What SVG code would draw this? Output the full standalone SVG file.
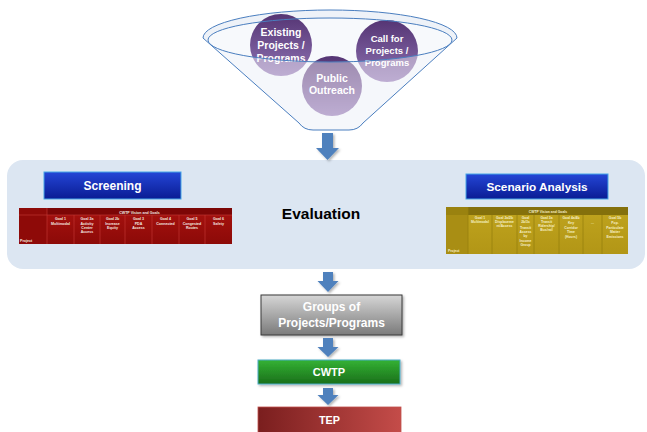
<svg xmlns="http://www.w3.org/2000/svg" width="647" height="432" viewBox="0 0 647 432">
  <defs>
    <linearGradient id="gPurple" x1="0" y1="0" x2="0" y2="1">
      <stop offset="0" stop-color="#553574"/>
      <stop offset="1" stop-color="#8e72b2"/>
    </linearGradient>
    <linearGradient id="gBlue" x1="0" y1="0" x2="0" y2="1">
      <stop offset="0" stop-color="#2446d6"/>
      <stop offset="1" stop-color="#0a1c94"/>
    </linearGradient>
    <linearGradient id="gGrey" x1="0" y1="0" x2="0" y2="1">
      <stop offset="0" stop-color="#d6d6d6"/>
      <stop offset="1" stop-color="#7a7a7a"/>
    </linearGradient>
    <linearGradient id="gGreen" x1="0" y1="0" x2="0" y2="1">
      <stop offset="0" stop-color="#34b234"/>
      <stop offset="1" stop-color="#1a6f1a"/>
    </linearGradient>
    <linearGradient id="gRed" x1="0" y1="0" x2="1" y2="0">
      <stop offset="0" stop-color="#7a1e1e"/>
      <stop offset="1" stop-color="#c44c49"/>
    </linearGradient>
    <linearGradient id="gTableRed" x1="0" y1="0" x2="0" y2="1">
      <stop offset="0" stop-color="#a8120f"/>
      <stop offset="1" stop-color="#8c0a08"/>
    </linearGradient>
    <linearGradient id="gTableGold" x1="0" y1="0" x2="0" y2="1">
      <stop offset="0" stop-color="#c0a41e"/>
      <stop offset="1" stop-color="#b29616"/>
    </linearGradient>
    <filter id="shadow" x="-20%" y="-20%" width="150%" height="160%">
      <feDropShadow dx="1.5" dy="1.5" stdDeviation="1" flood-color="#000" flood-opacity="0.3"/>
    </filter>
  </defs>
  <style>
    .lbl { font-family: "Liberation Sans", Arial, sans-serif; font-weight: bold; fill: #ffffff; text-anchor: middle; }
    .circ { stroke: none; fill: url(#gPurple); }
    .rim { fill: none; stroke: #4a7ebf; stroke-width: 1; }
    .arrow { fill: #4f81bd; filter: url(#shadow); }
    .tiny { font-family: "Liberation Sans", Arial, sans-serif; font-weight: bold; font-size: 3.6px; fill: #f4e8e0; text-anchor: middle; }
    .tinyg { font-family: "Liberation Sans", Arial, sans-serif; font-weight: bold; font-size: 3.4px; fill: #f6efc8; text-anchor: middle; }
    .sepR { stroke: #c63a36; stroke-width: 0.6; }
    .sepG { stroke: #98800e; stroke-width: 0.8; }
  </style>

  <!-- Funnel with the three input sources -->
  <g id="funnel">
    <path d="M203,38 A127,28 0 0 1 457,38 L363,123 Q358,130 349,130 L313,130 Q304,130 299,123 Z" fill="#eef2f8"/>
    <ellipse cx="330" cy="40" rx="122" ry="22" fill="#f7f9fc"/>
  </g>
  <g id="existing">
    <circle class="circ" cx="281" cy="45" r="31"/>
    <text class="lbl" font-size="10.5" x="281" y="36">Existing</text>
    <text class="lbl" font-size="10.5" x="281" y="49">Projects /</text>
    <text class="lbl" font-size="10.5" x="281" y="62">Programs</text>
  </g>
  <g id="call">
    <circle class="circ" cx="387" cy="51" r="31"/>
    <text class="lbl" font-size="9.5" x="387" y="42">Call for</text>
    <text class="lbl" font-size="9.5" x="387" y="54">Projects /</text>
    <text class="lbl" font-size="9.5" x="387" y="66">Programs</text>
  </g>
  <g id="outreach">
    <circle class="circ" cx="332" cy="86" r="30"/>
    <text class="lbl" font-size="10.5" x="332" y="82">Public</text>
    <text class="lbl" font-size="10.5" x="332" y="94">Outreach</text>
  </g>
  <g id="funnel-front">
    <path d="M203,38 L208,40 A122,22 0 0 0 452,40 L457,38 L363,123 Q358,130 349,130 L313,130 Q304,130 299,123 Z" fill="#ffffff" fill-opacity="0.42"/>
    <path class="rim" d="M203,38 A127,28 0 0 1 457,38"/>
    <ellipse class="rim" cx="330" cy="40" rx="122" ry="22"/>
    <path class="rim" d="M203,38 L299,123 Q304,130 313,130 L349,130 Q358,130 363,123 L457,38"/>
  </g>

  <!-- Evaluation panel -->
  <g id="evaluation">
    <rect x="7" y="160" width="638" height="109" rx="16" fill="#dce6f2"/>
    <text x="321" y="219" font-family="Liberation Sans, Arial, sans-serif" font-weight="bold" font-size="15.5" fill="#000" text-anchor="middle">Evaluation</text>
  </g>

  <g id="screening">
    <rect x="44" y="172" width="137" height="27" fill="url(#gBlue)" stroke="#46a6e6" stroke-width="1"/>
    <text class="lbl" font-size="12" x="112.5" y="190">Screening</text>
  </g>

  <g id="screening-table">
    <rect x="19" y="208" width="213" height="36" fill="url(#gTableRed)"/>
    <rect x="19" y="208" width="213" height="7" fill="#7c0606"/>
    <rect x="19" y="208" width="28" height="36" fill="#8e0a08"/>
    <g class="sepR">
      <line x1="19" y1="215" x2="232" y2="215"/>
      <line x1="47" y1="208" x2="47" y2="244"/>
      <line x1="74" y1="215" x2="74" y2="244"/>
      <line x1="100" y1="215" x2="100" y2="244"/>
      <line x1="125" y1="215" x2="125" y2="244"/>
      <line x1="152" y1="215" x2="152" y2="244"/>
      <line x1="179" y1="215" x2="179" y2="244"/>
      <line x1="205" y1="215" x2="205" y2="244"/>
    </g>
    <text class="tiny" x="139.5" y="213.5">CWTP Vision and Goals</text>
    <text class="tiny" x="60.5" y="219.5">Goal 1</text>
    <text class="tiny" x="60.5" y="224.5">Multimodal</text>
    <text class="tiny" x="87" y="219.5">Goal 2a</text>
    <text class="tiny" x="87" y="224.5">Activity</text>
    <text class="tiny" x="87" y="228.5">Center</text>
    <text class="tiny" x="87" y="232.5">Access</text>
    <text class="tiny" x="112.5" y="219.5">Goal 2b</text>
    <text class="tiny" x="112.5" y="224.5">Increase</text>
    <text class="tiny" x="112.5" y="228.5">Equity</text>
    <text class="tiny" x="138.5" y="219.5">Goal 3</text>
    <text class="tiny" x="138.5" y="224.5">PDA</text>
    <text class="tiny" x="138.5" y="228.5">Access</text>
    <text class="tiny" x="165.5" y="219.5">Goal 4</text>
    <text class="tiny" x="165.5" y="224.5">Connected</text>
    <text class="tiny" x="192" y="219.5">Goal 5</text>
    <text class="tiny" x="192" y="224.5">Congested</text>
    <text class="tiny" x="192" y="228.5">Routes</text>
    <text class="tiny" x="218.5" y="219.5">Goal 6</text>
    <text class="tiny" x="218.5" y="224.5">Safety</text>
    <text class="tiny" x="20" y="241.5" font-size="4.5" style="text-anchor:start">Project</text>
  </g>

  <g id="scenario">
    <rect x="466" y="174" width="142" height="25" fill="url(#gBlue)" stroke="#46a6e6" stroke-width="1"/>
    <text class="lbl" font-size="11.8" x="537" y="191">Scenario Analysis</text>
  </g>

  <g id="scenario-table">
    <rect x="446" y="207" width="182" height="47" fill="url(#gTableGold)"/>
    <rect x="468" y="207" width="160" height="8" fill="#84700c"/>
    <rect x="446" y="207" width="22" height="47" fill="#a98e14"/>
    <rect x="446" y="207" width="22" height="8" fill="#9a820f"/>
    <g class="sepG">
      <line x1="468" y1="207" x2="468" y2="254"/>
      <line x1="492" y1="215" x2="492" y2="254"/>
      <line x1="517" y1="215" x2="517" y2="254"/>
      <line x1="534" y1="215" x2="534" y2="254"/>
      <line x1="559" y1="215" x2="559" y2="254"/>
      <line x1="583" y1="215" x2="583" y2="254"/>
      <line x1="602" y1="215" x2="602" y2="254"/>
    </g>
    <text class="tinyg" x="548" y="212.5">CWTP Vision and Goals</text>
    <text class="tinyg" x="480" y="218.5">Goal 1</text>
    <text class="tinyg" x="480" y="223">Multimodal</text>
    <text class="tinyg" x="504.5" y="218.5">Goal 2a/2b</text>
    <text class="tinyg" x="504.5" y="223">Displaceme</text>
    <text class="tinyg" x="504.5" y="227">nt/Access</text>
    <text class="tinyg" x="525.5" y="218.5">Goal</text>
    <text class="tinyg" x="525.5" y="222.5">2b/3c</text>
    <text class="tinyg" x="525.5" y="228.5">Transit</text>
    <text class="tinyg" x="525.5" y="232.5">Access</text>
    <text class="tinyg" x="525.5" y="237">by</text>
    <text class="tinyg" x="525.5" y="241.5">Income</text>
    <text class="tinyg" x="525.5" y="246">Group</text>
    <text class="tinyg" x="546.5" y="218.5">Goal 3a</text>
    <text class="tinyg" x="546.5" y="223">Transit</text>
    <text class="tinyg" x="546.5" y="227">Ridership/</text>
    <text class="tinyg" x="546.5" y="231">Bus/rail</text>
    <text class="tinyg" x="571" y="218.5">Goal 4a/4b</text>
    <text class="tinyg" x="571" y="224">Key</text>
    <text class="tinyg" x="571" y="228.5">Corridor</text>
    <text class="tinyg" x="571" y="233">Time</text>
    <text class="tinyg" x="571" y="237.5">(Hours)</text>
    <text class="tinyg" x="592.5" y="224">...</text>
    <text class="tinyg" x="615" y="218.5">Goal 5b</text>
    <text class="tinyg" x="615" y="224">Pop.</text>
    <text class="tinyg" x="615" y="228.5">Particulate</text>
    <text class="tinyg" x="615" y="233">Matter</text>
    <text class="tinyg" x="615" y="237.5">Emissions</text>
    <text class="tinyg" x="448" y="251.5" font-size="4.3" style="text-anchor:start">Project</text>
  </g>

  <!-- Output boxes -->
  <g id="groups">
    <rect x="261" y="295" width="141" height="40" fill="url(#gGrey)" stroke="#3a3a3a" stroke-width="1" filter="url(#shadow)"/>
    <text class="lbl" font-size="12" x="331.5" y="311">Groups of</text>
    <text class="lbl" font-size="12" x="331.5" y="327">Projects/Programs</text>
  </g>
  <g id="cwtp">
    <rect x="258" y="360" width="142" height="24" fill="url(#gGreen)" stroke="#4bacc6" stroke-width="1" filter="url(#shadow)"/>
    <text class="lbl" font-size="11" x="329" y="376">CWTP</text>
  </g>
  <g id="tep">
    <rect x="258" y="407" width="143" height="30" fill="url(#gRed)" stroke="#c0504d" stroke-width="0.8"/>
    <text class="lbl" font-size="10.8" x="329.5" y="424">TEP</text>
  </g>

  <!-- Connectors: block arrows pointing down -->
  <g id="connectors">
    <path class="arrow" d="M322,133 H333 V148 H339 L327.5,160 L316,148 H322 Z"/>
    <path class="arrow" d="M323,272 H333 V281 H338.5 L328,292 L317.5,281 H323 Z"/>
    <path class="arrow" d="M323,338 H333 V347 H338.5 L328,357 L317.5,347 H323 Z"/>
    <path class="arrow" d="M323,388 H333 V395 H338.5 L328,405 L317.5,395 H323 Z"/>
  </g>
</svg>
